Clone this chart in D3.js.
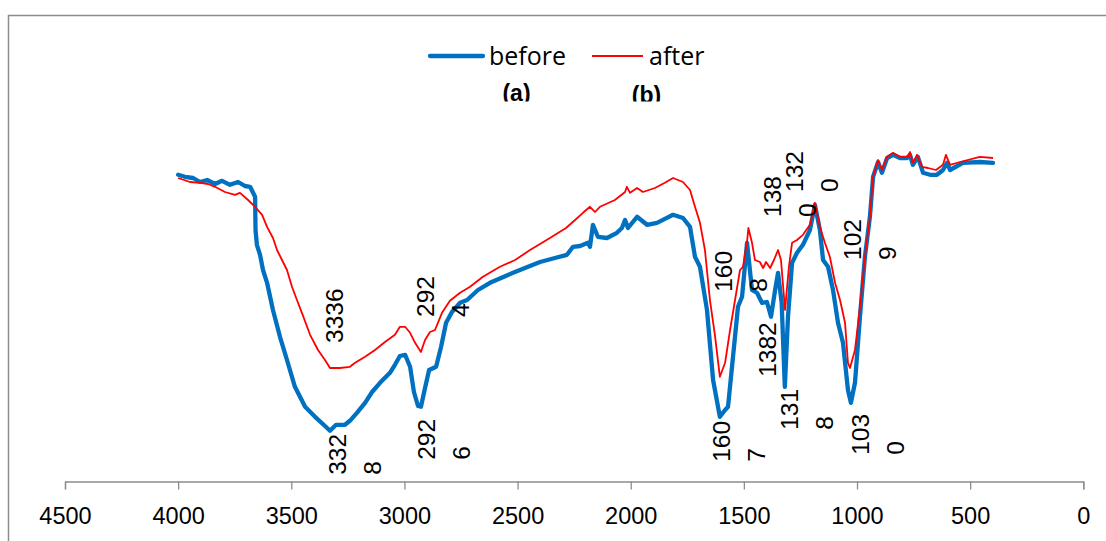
<!DOCTYPE html>
<html>
<head>
<meta charset="utf-8">
<script src="https://cdn.jsdelivr.net/npm/d3@7"></script>
<style>
  body { margin: 0; background: #fff; }
  svg { display: block; }
</style>
</head>
<body>
<div id="chart"></div>
<script>
// FTIR spectra, wavenumber (cm-1) vs transmittance (arbitrary %)
var series_names = ["before", "after"];

var before_wn = [4000, 3970, 3934, 3903, 3872, 3837, 3806, 3771, 3735, 3705, 3682, 3660, 3658, 3652, 3638, 3625, 3607, 3581, 3550, 3519,
  3484, 3439, 3395, 3351, 3329, 3302, 3263, 3241, 3210, 3174, 3143, 3108, 3064, 3042, 3020, 2997, 2975, 2958, 2940, 2927,
  2909, 2891, 2860, 2838, 2816, 2790, 2754, 2723, 2675, 2622, 2520, 2401, 2335, 2282, 2255, 2224, 2189, 2180, 2167, 2145,
  2105, 2061, 2039, 2025, 2012, 1972, 1928, 1884, 1849, 1813, 1769, 1738, 1716, 1694, 1663, 1636, 1606, 1583, 1570, 1548,
  1526, 1508, 1486, 1464, 1442, 1420, 1398, 1380, 1362, 1349, 1333, 1319, 1305, 1287, 1265, 1239, 1208, 1186, 1164, 1150,
  1128, 1106, 1084, 1062, 1040, 1027, 1009, 987, 965, 943, 929, 907, 890, 867, 841, 810, 779, 766, 753, 731,
  708, 677, 647, 620, 602, 589, 532, 457, 399];
var before_t = [76.8, 76.3, 76, 75, 75.5, 74.5, 75.3, 74.3, 75, 74, 73.8, 71.3, 63, 59.3, 56.8, 53, 49.8, 43, 36.3, 30.5,
  23.8, 18.8, 16.3, 14, 12.8, 14.3, 14.3, 15.3, 17.3, 19.8, 22.5, 24.8, 27.3, 29.3, 31.5, 31.8, 28.8, 22.5, 19, 18.8,
  23.5, 28, 28.8, 33.8, 39.8, 42.5, 44.8, 45.5, 48, 49.8, 52.3, 55, 56, 56.8, 58.8, 59, 59.8, 58.8, 64.3, 61.3,
  61, 62.3, 63.5, 65.5, 63.5, 66.3, 64.3, 64.8, 65.8, 66.8, 66, 63.8, 56.3, 53.8, 43, 25.5, 16.3, 18, 18.8, 31.3,
  43.8, 46.3, 59.8, 48, 47.3, 44.8, 45, 41.3, 48, 52.3, 44.8, 23.8, 41.3, 54.8, 57.3, 59.3, 63, 69.3, 63, 55.5,
  53.8, 48, 39.8, 34.8, 23, 19.8, 24.8, 41.3, 56.3, 66.3, 76.3, 80, 77.3, 81, 81.8, 81, 81, 81.8, 79.3, 81.3,
  77.3, 76.8, 76.8, 78, 79.8, 78, 79.8, 80, 79.8];

var after_wn = [4000, 3948, 3903, 3868, 3837, 3793, 3749, 3727, 3691, 3660, 3629, 3607, 3581, 3563, 3541, 3519, 3497, 3475, 3453, 3417,
  3382, 3351, 3329, 3285, 3241, 3218, 3174, 3130, 3086, 3042, 3020, 2997, 2975, 2953, 2927, 2909, 2887, 2865, 2834, 2799,
  2754, 2710, 2653, 2578, 2511, 2445, 2357, 2286, 2246, 2211, 2180, 2158, 2136, 2070, 2025, 2017, 2003, 1972, 1946, 1893,
  1849, 1813, 1769, 1738, 1716, 1694, 1672, 1650, 1628, 1606, 1583, 1561, 1539, 1517, 1504, 1486, 1480, 1464, 1451, 1429,
  1415, 1402, 1384, 1367, 1349, 1336, 1318, 1301, 1287, 1265, 1239, 1208, 1186, 1164, 1142, 1120, 1097, 1075, 1053, 1040,
  1031, 1009, 987, 965, 943, 929, 907, 890, 867, 841, 810, 775, 766, 753, 735, 713, 686, 651, 620, 607,
  589, 545, 457, 399];
var after_t = [76, 75, 74.8, 74.5, 73.8, 72.5, 71.8, 72.3, 70.5, 68.8, 66.8, 63.8, 61, 58, 55.5, 53, 48.8, 45.5, 42.3, 36.8,
  33, 30.5, 28.5, 28.5, 28.8, 29.8, 31.3, 33, 35, 36.8, 38.8, 38.8, 37.3, 34.8, 32.5, 35.5, 37.5, 38, 42.3, 45.3,
  47.3, 48.8, 51.3, 53.8, 55.5, 58, 61, 63.5, 65.5, 67.3, 68.8, 67.5, 68.8, 70.5, 72.5, 73.8, 72.3, 73.5, 72.5, 73.5,
  74.8, 76, 75, 73, 68.8, 64.8, 58, 45.5, 36.8, 26.3, 29.8, 38, 45.5, 53, 53.8, 60, 63.5, 59.8, 55.5, 55,
  53.5, 55, 53.5, 55.5, 58, 55.5, 43, 53.8, 59.8, 60.5, 61.8, 64.3, 69.8, 63.8, 59.8, 56.3, 49.8, 45.5, 39.8, 29.8,
  28.5, 33, 43.8, 56.3, 66.3, 76.3, 80.5, 78, 81.3, 82.3, 81.3, 81.3, 82.5, 79.8, 81.8, 78.8, 78.5, 78, 79.3, 81.8,
  79.3, 80, 81.3, 81];

var x_ticks = [4500, 4000, 3500, 3000, 2500, 2000, 1500, 1000, 500, 0];

// peak labels (wrapped the way the original data labels are)
var before_labels = [
  {wn: 3328, lines: ["332", "8"]},
  {wn: 2926, lines: ["292", "6"]},
  {wn: 1607, lines: ["160", "7"]},
  {wn: 1382, lines: ["1382"]},
  {wn: 1318, lines: ["131", "8"]},
  {wn: 1030, lines: ["103", "0"]}
];
var after_labels = [
  {wn: 3336, lines: ["3336"]},
  {wn: 2924, lines: ["292", "4"]},
  {wn: 1608, lines: ["160", "8"]},
  {wn: 1380, lines: ["138", "0"]},
  {wn: 1320, lines: ["132", "0"]},
  {wn: 1029, lines: ["102", "9"]}
];
// label offsets from their point, pixels
var before_offsets = [[6.8, 44], [5.8, 53], [2.3, 45], [-2.6, 60], [4.9, 43], [9.8, 52]];
var after_offsets = [[5.6, -25], [3.4, -35], [3.7, -85], [1, -51], [10.4, -118], [1.6, -108]];

var W = 1106, H = 541;
var colors = {before: "#0070C0", after: "#FF0000"};

var svg = d3.select("#chart").append("svg")
  .attr("width", W)
  .attr("height", H);

// outer chart frame
svg.append("rect")
  .attr("x", 8.5).attr("y", 15.5)
  .attr("width", W + 20).attr("height", H + 20)
  .attr("fill", "none")
  .attr("stroke", "#8c8c8c")
  .attr("stroke-width", 1.5);

var x = d3.scaleLinear().domain([4500, 0]).range([65, 1083.3]);
var y = d3.scaleLinear().domain([0, 100]).range([482, 82]);

var axis = d3.axisBottom(x)
  .tickValues(x_ticks)
  .tickFormat(d3.format("d"))
  .tickSize(8)
  .tickPadding(18);

var gx = svg.append("g")
  .attr("transform", "translate(0,481.5)")
  .call(axis);
gx.select(".domain").attr("stroke", "#8c8c8c").attr("stroke-width", 1.3);
gx.selectAll(".tick line").attr("stroke", "#8c8c8c").attr("stroke-width", 1.3);
gx.selectAll(".tick text")
  .attr("fill", "#000")
  .style("font-family", "'Liberation Sans', Arial, sans-serif")
  .style("font-size", "23.5px");

var line = d3.line()
  .x(function(d) { return x(d[0]); })
  .y(function(d) { return y(d[1]); });

var before_data = d3.zip(before_wn, before_t);
var after_data = d3.zip(after_wn, after_t);

svg.append("path")
  .datum(before_data)
  .attr("d", line)
  .attr("fill", "none")
  .attr("stroke", colors.before)
  .attr("stroke-width", 4.3)
  .attr("stroke-linejoin", "round")
  .attr("stroke-linecap", "round");

svg.append("path")
  .datum(after_data)
  .attr("d", line)
  .attr("fill", "none")
  .attr("stroke", colors.after)
  .attr("stroke-width", 1.8)
  .attr("stroke-linejoin", "round");

function nearest(data, wn) {
  var best = data[0];
  data.forEach(function(d) {
    if (Math.abs(d[0] - wn) < Math.abs(best[0] - wn)) best = d;
  });
  return best;
}

function draw_labels(labels, offsets, data) {
  var g = svg.append("g")
    .style("font-family", "'Liberation Sans', Arial, sans-serif")
    .style("font-size", "24.5px")
    .attr("fill", "#000");

  labels.forEach(function(lab, i) {
    var p = nearest(data, lab.wn);
    var px = x(lab.wn) + offsets[i][0];
    var py = y(p[1]) + offsets[i][1];
    var t = g.append("text")
      .attr("transform", "translate(" + px + "," + py + ") rotate(-90)")
      .attr("text-anchor", "start");
    lab.lines.forEach(function(s, j) {
      t.append("tspan")
        .attr("x", 0)
        .attr("y", j * 35)
        .attr("dominant-baseline", "central")
        .text(s);
    });
  });
}

draw_labels(before_labels, before_offsets, before_data);
draw_labels(after_labels, after_offsets, after_data);

// legend
var legend = svg.append("g")
  .style("font-family", "'Open Sans', sans-serif")
  .style("font-size", "25px");

var leg_items = [
  {name: series_names[0], x0: 430, x1: 483, tx: 489, w: 4.3},
  {name: series_names[1], x0: 592, x1: 643, tx: 649, w: 1.8}
];
leg_items.forEach(function(d) {
  legend.append("line")
    .attr("x1", d.x0).attr("x2", d.x1)
    .attr("y1", 56).attr("y2", 56)
    .attr("stroke", colors[d.name])
    .attr("stroke-width", d.w)
    .attr("stroke-linecap", d.w > 2 ? "round" : "butt");
  legend.append("text")
    .attr("x", d.tx)
    .attr("y", 65)
    .attr("fill", "#000")
    .text(d.name);
});

// (a) (b) text boxes, cut off at the bottom
svg.append("clipPath").attr("id", "cut")
  .append("rect").attr("x", 0).attr("y", 0).attr("width", W).attr("height", 101.5);

svg.append("g")
  .attr("clip-path", "url(#cut)")
  .style("font-family", "'Liberation Sans', Arial, sans-serif")
  .style("font-size", "23px")
  .style("font-weight", "bold")
  .attr("fill", "#000")
  .selectAll("text")
  .data(["(a)", "(b)"])
  .enter()
  .append("text")
  .attr("x", function(d, i) { return i == 0 ? 516.5 : 646.5; })
  .attr("y", function(d, i) { return i == 0 ? 100.5 : 103; })
  .attr("text-anchor", "middle")
  .text(function(d) { return d; });
</script>
</body>
</html>
